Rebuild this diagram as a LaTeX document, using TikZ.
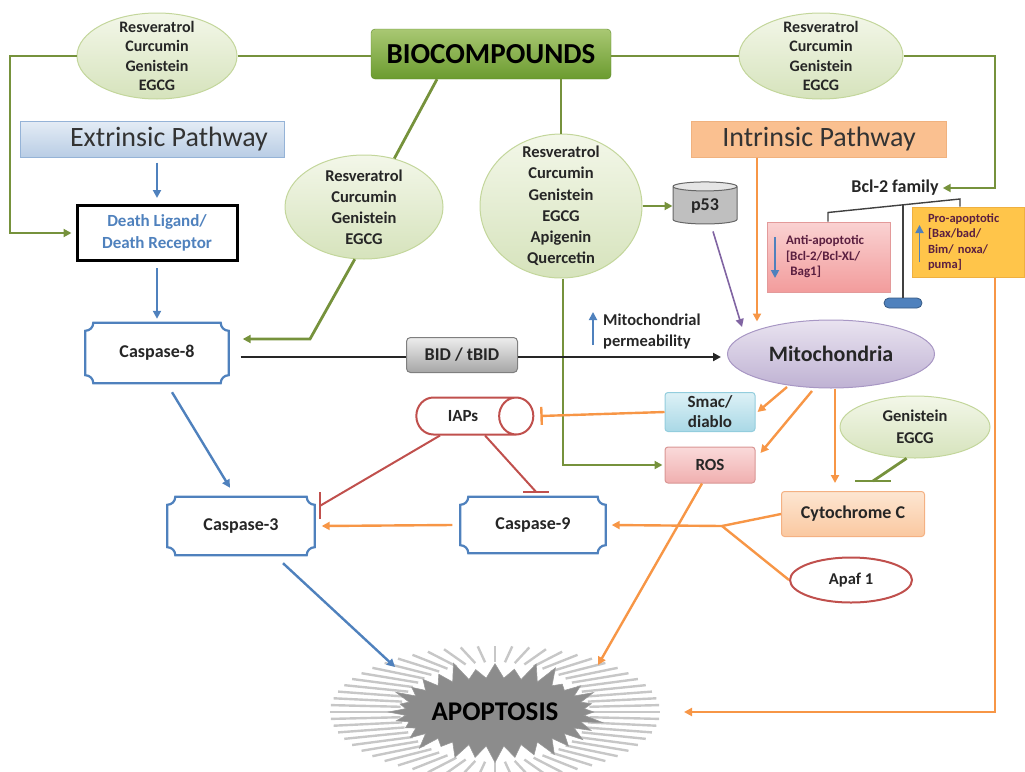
\documentclass[tikz,border=0pt]{standalone}
\usepackage{fontspec}
\setmainfont{Carlito}
\usetikzlibrary{shapes.geometric,shapes.symbols,arrows.meta,calc}
\definecolor{grn}{HTML}{76923C}
\definecolor{ellt}{HTML}{F3F7E9}
\definecolor{ellbot}{HTML}{D6E3BC}
\definecolor{ellb}{HTML}{C3D69B}
\definecolor{biot}{HTML}{A9C873}
\definecolor{biob}{HTML}{6B9B2F}
\definecolor{biod}{HTML}{5F8A2C}
\definecolor{blu}{HTML}{4F81BD}
\definecolor{org}{HTML}{F79646}
\definecolor{rdd}{HTML}{C0504D}
\definecolor{extt}{HTML}{E4ECF5}
\definecolor{extb}{HTML}{B9CDE5}
\definecolor{extd}{HTML}{95B3D7}
\definecolor{intf}{HTML}{FAC090}
\definecolor{intd}{HTML}{F0B27F}
\definecolor{mitt}{HTML}{E9E3F0}
\definecolor{mitb}{HTML}{BFB2D3}
\definecolor{mitd}{HTML}{A897C4}
\definecolor{smact}{HTML}{DDF1F6}
\definecolor{smacf}{HTML}{A9D8E6}
\definecolor{smacd}{HTML}{93CDDD}
\definecolor{rost}{HTML}{FADADA}
\definecolor{rosf}{HTML}{F0AFAF}
\definecolor{rosd}{HTML}{D99694}
\definecolor{cytt}{HTML}{FDE6D2}
\definecolor{cytf}{HTML}{FAC8A0}
\definecolor{cytd}{HTML}{F4B183}
\definecolor{antit}{HTML}{FAD2D2}
\definecolor{antif}{HTML}{F29C9C}
\definecolor{antid}{HTML}{E39A9A}
\definecolor{prof}{HTML}{FFC54A}
\definecolor{prod}{HTML}{EFB040}
\definecolor{bidt}{HTML}{EDEDED}
\definecolor{bidb}{HTML}{A6A6A6}
\definecolor{bidd}{HTML}{7F7F7F}
\definecolor{txt}{HTML}{262626}
\definecolor{antitxt}{HTML}{5B1F40}
\definecolor{apopg}{HTML}{8C8C8C}
\definecolor{purp}{HTML}{8064A2}
\newcommand\plaqueframe[1]{%
 \draw[blu,line width=2.2pt] ($(#1.north west)+(8,0)$) -- ($(#1.north east)+(-8,0)$)
  arc[start angle=180,end angle=270,radius=8pt] -- ($(#1.south east)+(0,8)$)
  arc[start angle=90,end angle=180,radius=8pt] -- ($(#1.south west)+(8,0)$)
  arc[start angle=0,end angle=90,radius=8pt] -- ($(#1.north west)+(0,-8)$)
  arc[start angle=270,end angle=360,radius=8pt] -- cycle;}
\begin{document}
\begin{tikzpicture}[x=1pt,y=1pt,
 every node/.style={text=txt},
 cmpd/.style={ellipse, draw=ellb, line width=1pt, top color=ellt, bottom color=ellbot,
   align=center, inner sep=-14pt, font=\bfseries\fontsize{16}{19.5}\selectfont},
 biobox/.style={rectangle, rounded corners=4pt, top color=biot, bottom color=biob, draw=biod,
   minimum width=240pt, minimum height=50pt, font=\bfseries\fontsize{29}{32}\selectfont, text=black},
 pathbox/.style={rectangle, minimum height=36pt, line width=1pt,
   font=\fontsize{28}{30}\selectfont, text=black!80},
 casp/.style={rectangle, minimum width=145pt, minimum height=58pt, font=\bfseries\fontsize{18}{20}\selectfont},
 sbox/.style={rectangle, rounded corners=3pt, line width=1pt, align=center, inner sep=0pt,
   font=\bfseries\fontsize{17}{20}\selectfont},
 arrowend/.style={-{Triangle[length=8pt,width=8pt]}},
 gl/.style={draw=grn, line width=2.8pt},
 bl/.style={draw=blu, line width=2.4pt},
 bk/.style={draw=black!85, line width=2.4pt},
 ol/.style={draw=org, line width=2.4pt},
 rl/.style={draw=rdd, line width=2pt},
 pl/.style={draw=purp, line width=1.6pt},
 bkt/.style={draw=black!75, line width=1.4pt}
]
\useasboundingbox (0,0) rectangle (1025,-771);

% ---------- nodes ----------
\node[biobox] (bio) at (491,-54) {BIOCOMPOUNDS};
\node[cmpd, minimum width=160pt, minimum height=86pt] (e1) at (157,-56) {Resveratrol\\Curcumin\\Genistein\\EGCG};
\node[cmpd, minimum width=164pt, minimum height=86pt] (e2) at (821,-56) {Resveratrol\\Curcumin\\Genistein\\EGCG};
\node[cmpd, minimum width=158pt, minimum height=104pt, font=\bfseries\fontsize{16.5}{21}\selectfont] (e3) at (364,-207) {Resveratrol\\Curcumin\\Genistein\\EGCG};
\node[cmpd, minimum width=162pt, minimum height=144pt, font=\bfseries\fontsize{16.5}{21.2}\selectfont, inner sep=-22pt] (e4) at (561,-206) {Resveratrol\\Curcumin\\Genistein\\EGCG\\Apigenin\\Quercetin};
\node[cmpd, minimum width=150pt, minimum height=62pt, font=\bfseries\fontsize{16.5}{22}\selectfont] (e5) at (915,-427) {Genistein\\EGCG};

\node[pathbox, minimum width=264pt, top color=extt, bottom color=extb, draw=extd] (ext) at (152,-139) {\hspace*{34pt}Extrinsic Pathway};
\node[pathbox, minimum width=255pt, fill=intf, draw=intd] (intr) at (819,-139) {Intrinsic Pathway};

\node[rectangle, draw=black, line width=3pt, minimum width=160pt, minimum height=55pt, align=center,
  text=blu, font=\bfseries\fontsize{17}{22}\selectfont] (death) at (157,-233) {Death Ligand/\\Death Receptor};

\node[casp, minimum width=143pt, minimum height=60pt] (c8) at (157,-353) {Caspase-8};
\node[casp, minimum width=147pt] (c3) at (241,-526) {Caspase-3};
\node[casp, minimum height=56pt] (c9) at (533,-525) {Caspase-9};
\plaqueframe{c8}
\plaqueframe{c3}
\plaqueframe{c9}

\node[sbox, rounded corners=4pt, top color=bidt, bottom color=bidb, draw=bidd, minimum width=111pt, minimum height=35pt,
  font=\bfseries\fontsize{18}{20}\selectfont] (bid) at (462,-355) {BID / tBID};
\node[ellipse, top color=mitt, bottom color=mitb, draw=mitd, line width=1pt, minimum width=207pt, minimum height=68pt,
  inner sep=0pt, font=\bfseries\fontsize{22}{24}\selectfont] (mito) at (831,-354) {Mitochondria};
\node[cylinder, shape border rotate=90, aspect=0.3, draw=black!60, line width=1pt, cylinder uses custom fill,
  cylinder body fill=black!25, cylinder end fill=black!10, minimum width=64pt, minimum height=42pt, inner sep=1pt,
  font=\bfseries\fontsize{18}{20}\selectfont] (p53) at (705,-206) {p53};
\node[cylinder, aspect=2.6, draw=rdd, line width=2pt, fill=white, minimum width=37pt, minimum height=117pt,
  inner sep=1pt, font=\bfseries\fontsize{17}{20}\selectfont] (iaps) at (463,-416) {IAPs};
\node[sbox, top color=smact, bottom color=smacf, draw=smacd, minimum width=90pt, minimum height=39pt] (smac) at (710,-412) {Smac/\\diablo};
\node[sbox, top color=rost, bottom color=rosf, draw=rosd, minimum width=90pt, minimum height=36pt] (ros) at (710,-465) {ROS};
\node[sbox, top color=cytt, bottom color=cytf, draw=cytd, minimum width=143pt, minimum height=45pt,
  font=\bfseries\fontsize{18}{20}\selectfont] (cytc) at (853,-514) {Cytochrome C};
\node[ellipse, draw=rdd, line width=2pt, fill=white, minimum width=122pt, minimum height=45pt, inner sep=0pt,
  font=\bfseries\fontsize{16.5}{20}\selectfont] (apaf) at (851,-580) {Apaf 1};

\node[rectangle, top color=antit, bottom color=antif, draw=antid, line width=1pt, text width=86pt, inner xsep=18.5pt,
  minimum height=70pt, align=left, text=antitxt, font=\bfseries\fontsize{13}{15.5}\selectfont] (anti) at (829,-257)
  {Anti-apoptotic\\{}[Bcl-2/Bcl-XL/\\\ Bag1]};
\node[rectangle, fill=prof, draw=prod, line width=1pt, text width=80pt, inner xsep=16pt,
  minimum height=70pt, align=left, text=antitxt, font=\bfseries\fontsize{12.5}{15.5}\selectfont] (pro) at (968,-242)
  {Pro-apoptotic\\{}[Bax/bad/\\Bim/ noxa/\\puma]};
\node[font=\bfseries\fontsize{18}{20}\selectfont, inner sep=1pt] (bcl) at (895,-188) {Bcl-2 family};
\node[rectangle, rounded corners=5pt, fill=blu, draw=blu!70!black, line width=0.8pt, minimum width=38pt,
  minimum height=10pt, inner sep=0pt] (pill) at (903,-303) {};

\node[anchor=west, align=left, inner sep=0pt, font=\bfseries\fontsize{16.5}{21}\selectfont] (perm) at (603,-332)
  {Mitochondrial\\permeability};

% ---------- apoptosis burst ----------
\coordinate (apopc) at (495,-712);
\foreach \a in {0,6,...,354}
  \draw[black!22, line width=2.4pt] ($(apopc)+({95*cos(\a)},{50*sin(\a)})$) -- ($(apopc)+({165*cos(\a)},{66*sin(\a)})$);
\node[starburst, starburst points=32, starburst point height=20pt, fill=apopg, draw=black!40, line width=0.6pt,
  minimum width=196pt, minimum height=108pt, inner sep=0pt, text=black,
  font=\bfseries\fontsize{27}{30}\selectfont] (apop) at (apopc) {APOPTOSIS};

% ---------- green connectors ----------
\draw[gl] (e1.east) -- (bio.west |- e1.east);
\draw[gl] (bio.east |- e2.west) -- (e2.west);
\draw[gl, arrowend] (e1.west) -- (10,-56) -- (10,-233) -- ($(death.west)+(-4,0)$);
\draw[gl, arrowend] (e2.east) -- (995,-56) -- (995,-188) -- ($(bcl.east)+(3,0)$);
\draw[gl] ($(bio.south)+(-54,0)$) -- (e3.58);
\draw[gl] (e4.north |- bio.south) -- (e4.north);
\draw[gl, arrowend] (e3.260) -- (310,-339) -- ($(c8.east)+(14,14)$);
\draw[gl, arrowend] (e4.east |- p53.west) -- (p53.west);
\coordinate (g1) at ($(e4.south)+(2,0)$);
\draw[gl, arrowend] (g1) -- (g1 |- ros.west) -- ($(ros.west)+(-2,0)$);
\coordinate (gb) at ($(cytc.north)+(20,10)$);
\draw[gl] (e5.255) -- (gb);
\draw[gl] ($(gb)+(-18,0)$) -- ($(gb)+(18,0)$);

% ---------- blue connectors ----------
\draw[bl, arrowend] ($(ext.south)+(5,-5)$) -- ($(death.north)+(0,6)$);
\draw[bl, arrowend] ($(death.south)+(0,-6)$) -- ($(c8.north)+(0,4)$);
\draw[bl, arrowend] ($(c8.south)+(15,-9)$) -- ($(c3.north)+(-11,9)$);
\draw[bl, arrowend] ($(c3.south)+(42,-8)$) -- ($(apop.center)+(-100,45)$);
\draw[draw=blu, line width=1.8pt, arrowend] ($(anti.west)+(8,20)$) -- ($(anti.west)+(8,-21)$);
\draw[draw=blu, line width=1.8pt, arrowend] ($(pro.west)+(8,-20)$) -- ($(pro.west)+(8,17)$);
\draw[draw=blu, line width=1.8pt, arrowend] ($(perm.west)+(-10,-13)$) -- ($(perm.west)+(-10,20)$);

% ---------- black / purple ----------
\coordinate (k1) at ($(bid.west -| c8.east)+(12,-2)$);
\draw[bk] (k1) -- ($(bid.west)+(0,-2)$);
\draw[bk, arrowend] ($(bid.east)+(0,-2)$) -- ($(mito.west)+(-6,-3)$);
\draw[pl, arrowend] ($(p53.south)+(8,-7)$) -- ($(mito.west)+(15,27)$);
\draw[bkt] ($(anti.north)+(-1,0)$) -- ++(0,9) -- (960,-199) -- ($(pro.north)+(-8,0)$);
\draw[bkt] (903,-205) -- (pill.north);

% ---------- orange connectors ----------
\coordinate (o1) at ($(intr.south west)+(66,0)$);
\draw[ol, arrowend] (o1) -- ($(o1 |- mito.north)+(0,-2)$);
\draw[ol, arrowend] ($(mito.center)+(-44,-33)$) -- ($(smac.east)+(2,0)$);
\draw[ol, arrowend] ($(mito.center)+(-19,-37)$) -- ($(ros.east)+(5,12)$);
\coordinate (o2) at ($(mito.south)+(4,0)$);
\draw[ol, arrowend] (o2) -- ($(o2 |- cytc.north)+(0,8)$);
\draw[ol, -{Bar[width=18pt]}] (smac.west) -- ($(iaps.east)+(6,0)$);
\coordinate (jn) at (722,-526);
\draw[ol] (cytc.west) -- (jn);
\draw[ol] (apaf.west) -- (jn);
\draw[ol, arrowend] (jn) -- ($(c9.east)+(6,0)$);
\draw[ol, arrowend] ($(c9.west)+(-8,0)$) -- ($(c3.east)+(7,0)$);
\draw[ol, arrowend] ($(ros.south)+(-8,0)$) -- ($(apop.center)+(103,47)$);
\coordinate (o5) at ($(pro.south)+(27,0)$);
\draw[ol, arrowend] (o5) -- (o5 |- apop.center) -- ($(apop.center)+(189,0)$);

% ---------- red inhibitions ----------
\coordinate (r1) at ($(c3.east)+(5,20)$);
\draw[rl] ($(iaps.south)+(-23,0)$) -- (r1);
\draw[rl] ($(r1)+(0,-13)$) -- ($(r1)+(0,14)$);
\coordinate (r2) at ($(c9.north)+(3,5)$);
\draw[rl] ($(iaps.south)+(22,0)$) -- (r2);
\draw[rl] ($(r2)+(-13,0)$) -- ($(r2)+(13,0)$);
\end{tikzpicture}
\end{document}
